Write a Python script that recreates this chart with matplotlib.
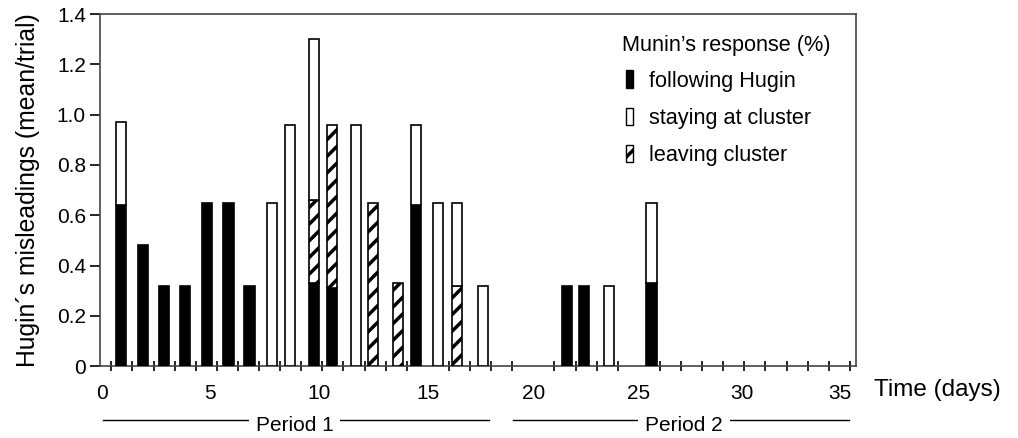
import matplotlib.pyplot as plt
from matplotlib.patches import Patch
from matplotlib.ticker import FixedLocator
from matplotlib.transforms import blended_transform_factory


# Day position of each bar and the stacked parts (mean misleadings per trial).
DAY = [0.45, 1.5, 2.5, 3.5, 4.55, 5.55, 6.55, 7.6, 8.45, 9.6, 10.45,
       11.6, 12.4, 13.6, 14.45, 15.5, 16.4, 17.6, 21.6, 22.4, 23.6, 25.6]
FOLLOWING = [0.64, 0.48, 0.32, 0.32, 0.65, 0.65, 0.32, 0, 0, 0.33, 0.31,
             0, 0, 0, 0.64, 0, 0, 0, 0.32, 0.32, 0, 0.33]
LEAVING = [0, 0, 0, 0, 0, 0, 0, 0, 0, 0.33, 0.65,
           0, 0.65, 0.33, 0, 0, 0.32, 0, 0, 0, 0, 0]
STAYING = [0.33, 0, 0, 0, 0, 0, 0, 0.65, 0.96, 0.64, 0,
           0.96, 0, 0, 0.32, 0.65, 0.33, 0.32, 0, 0, 0.32, 0.32]

DAY_TICKS = list(range(36))
X_TICK_LABELS = ["0", "5", "10", "15", "20", "25", "30", "35"]
# where the reference prints the day labels (slightly off the tick marks)
X_LABEL_POS = [-0.43, 4.65, 9.85, 15.0, 20.0, 25.0, 29.9, 34.55]
Y_TICKS = [0, 0.2, 0.4, 0.6, 0.8, 1.0, 1.2, 1.4]
Y_TICK_LABELS = ["0", "0.2", "0.4", "0.6", "0.8", "1.0", "1.2", "1.4"]

# (label, start day, end day, label centre)
PERIODS = [("Period 1", -0.42, 17.9, 8.68), ("Period 2", 19.05, 34.95, 27.14)]

plt.rcParams["font.family"] = ["Liberation Sans", "DejaVu Sans"]
plt.rcParams["hatch.linewidth"] = 2.5
plt.rcParams["hatch.color"] = "black"

fig = plt.figure(figsize=(10.18, 4.38), dpi=100)
ax = fig.add_axes([0.098, 0.164, 0.743, 0.804])

width = 0.48
bottom = [0.0] * len(DAY)
series = [(FOLLOWING, "black", None), (LEAVING, "white", "//"), (STAYING, "white", None)]
for values, face, hatch in series:
    idx = [i for i, v in enumerate(values) if v > 0]
    ax.bar([DAY[i] for i in idx], [values[i] for i in idx], width=width,
           bottom=[bottom[i] for i in idx], color=face, edgecolor="black",
           linewidth=1.2, hatch=hatch, zorder=3)
    for i in idx:
        bottom[i] += values[i]

ax.set_xlim(-0.55, 35.3)
ax.set_ylim(0, 1.4)
ax.set_xticks(X_LABEL_POS, X_TICK_LABELS)
ax.xaxis.set_minor_locator(FixedLocator(DAY_TICKS))
ax.set_yticks(Y_TICKS, Y_TICK_LABELS)
ax.tick_params(axis="x", which="major", length=0, labelsize=15, pad=13)
ax.tick_params(axis="x", which="minor", direction="inout", length=7, width=1.2)
ax.tick_params(axis="y", direction="out", length=7, width=1.2, labelsize=15, pad=3)
for spine in ax.spines.values():
    spine.set_linewidth(1.2)
    spine.set_color("#444444")

ax.set_ylabel("Hugin´s misleadings (mean/trial)", fontsize=17.8, labelpad=12)
ax.text(1.0235, -0.068, "Time (days)", transform=ax.transAxes, fontsize=17.5,
        ha="left", va="center")

trans = blended_transform_factory(ax.transData, ax.transAxes)
for label, start, end, centre in PERIODS:
    ax.plot([start, end], [-0.153, -0.153], transform=trans, color="black",
            linewidth=1, clip_on=False)
    ax.text(centre, -0.168, label, transform=trans, fontsize=15, ha="center",
            va="center", bbox=dict(facecolor="white", edgecolor="none", pad=5))

handles = [
    Patch(facecolor="black", edgecolor="black", label="following Hugin"),
    Patch(facecolor="white", edgecolor="black", label="staying at cluster"),
    Patch(facecolor="white", edgecolor="black", hatch="//", label="leaving cluster"),
]
ax.text(0.690, 0.912, "Munin’s response (%)", transform=ax.transAxes,
        fontsize=15.6, ha="left", va="center")
ax.legend(handles=handles, loc="center left", bbox_to_anchor=(0.6958, 0.7037),
          frameon=False, fontsize=15.6, handlelength=0.34, handleheight=0.85,
          handletextpad=0.7, labelspacing=0.75, borderpad=0, borderaxespad=0)

fig.savefig("out.png", dpi=100)
